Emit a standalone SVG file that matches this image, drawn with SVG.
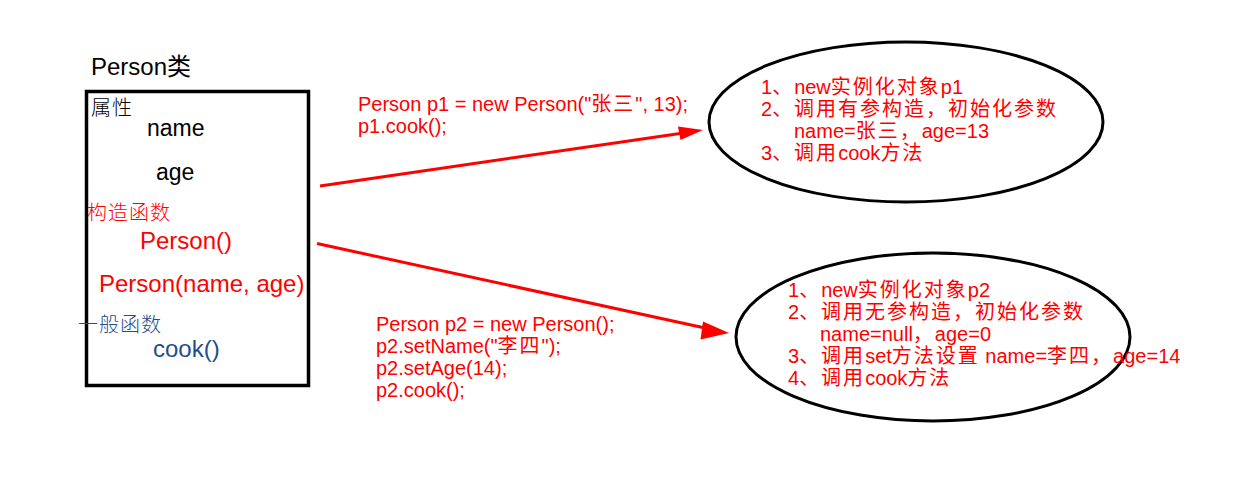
<svg xmlns="http://www.w3.org/2000/svg" width="1243" height="479" viewBox="0 0 1243 479">
<style>
text{font-family:"Liberation Sans","Noto Sans CJK SC",sans-serif;}
.big{font-size:24px;}
.lbl{font-size:20px;letter-spacing:1px;font-weight:300;}
.red{fill:#FF0000;}
.blk{fill:#000;}
.blu{fill:#1F4E8C;}
.t20{font-size:20px;fill:#FF0000;}
.cj{letter-spacing:2px;}
.shape{fill:none;stroke:#000;stroke-width:3;}
.conn{stroke:#FF0000;stroke-width:3;fill:none;}
</style>
<rect width="1243" height="479" fill="#fff"/>

<g id="person-class">
<text x="91" y="75" class="big blk">Person<tspan>类</tspan></text>
<rect x="86.5" y="91.5" width="222" height="294" class="shape" style="stroke-width:3.5"/>
<text x="91" y="115" class="lbl blk">属性</text>
<text x="147" y="136" class="big blk" style="font-size:23px">name</text>
<text x="156" y="180" class="big blk" style="font-size:23px">age</text>
<text x="87" y="220" class="lbl red">构造函数</text>
<text x="140" y="249" class="big red">Person()</text>
<text x="99" y="292" class="big red">Person(name, age)</text>
<text x="78" y="332" class="lbl blu">一般函数</text>
<text x="153" y="357" class="big blu">cook()</text>
</g>

<g id="p1-node">
<ellipse cx="906" cy="122" rx="197" ry="80" class="shape"/>
<text class="t20">
<tspan x="761" y="94">1<tspan class="cj">、</tspan>new<tspan class="cj">实例化对象</tspan>p1</tspan>
<tspan x="761" y="116">2<tspan class="cj">、调用有参构造，初始化参数</tspan></tspan>
<tspan x="794" y="138">name=<tspan class="cj">张三，</tspan>age=13</tspan>
<tspan x="761" y="160">3<tspan class="cj">、调用</tspan>cook<tspan class="cj">方法</tspan></tspan>
</text>
</g>

<g id="p2-node">
<ellipse cx="933" cy="337" rx="197" ry="84" class="shape"/>
<text class="t20">
<tspan x="788" y="297">1<tspan class="cj">、</tspan>new<tspan class="cj">实例化对象</tspan>p2</tspan>
<tspan x="788" y="319">2<tspan class="cj">、调用无参构造，初始化参数</tspan></tspan>
<tspan x="820" y="341">name=null<tspan class="cj">，</tspan>age=0</tspan>
<tspan x="788" y="363">3<tspan class="cj">、调用</tspan>set<tspan class="cj">方法设置</tspan> name=<tspan class="cj">李四，</tspan>age=14</tspan>
<tspan x="788" y="385">4<tspan class="cj">、调用</tspan>cook<tspan class="cj">方法</tspan></tspan>
</text>
</g>

<g id="connectors">
<line x1="320" y1="186" x2="680" y2="133.4" class="conn"/>
<path d="M703,130 L678,126.5 L680.5,140 Z" fill="#FF0000"/>
<line x1="317" y1="243.5" x2="705" y2="328" class="conn"/>
<path d="M729,333 L703,321.5 L700.5,339.5 Z" fill="#FF0000"/>
<text class="t20">
<tspan x="358" y="111">Person p1 = new Person("<tspan class="cj">张三</tspan>", 13);</tspan>
<tspan x="358" y="133">p1.cook();</tspan>
</text>
<text class="t20">
<tspan x="376" y="331">Person p2 = new Person();</tspan>
<tspan x="376" y="353">p2.setName("<tspan class="cj">李四</tspan>");</tspan>
<tspan x="376" y="375">p2.setAge(14);</tspan>
<tspan x="376" y="397">p2.cook();</tspan>
</text>
</g>
</svg>
